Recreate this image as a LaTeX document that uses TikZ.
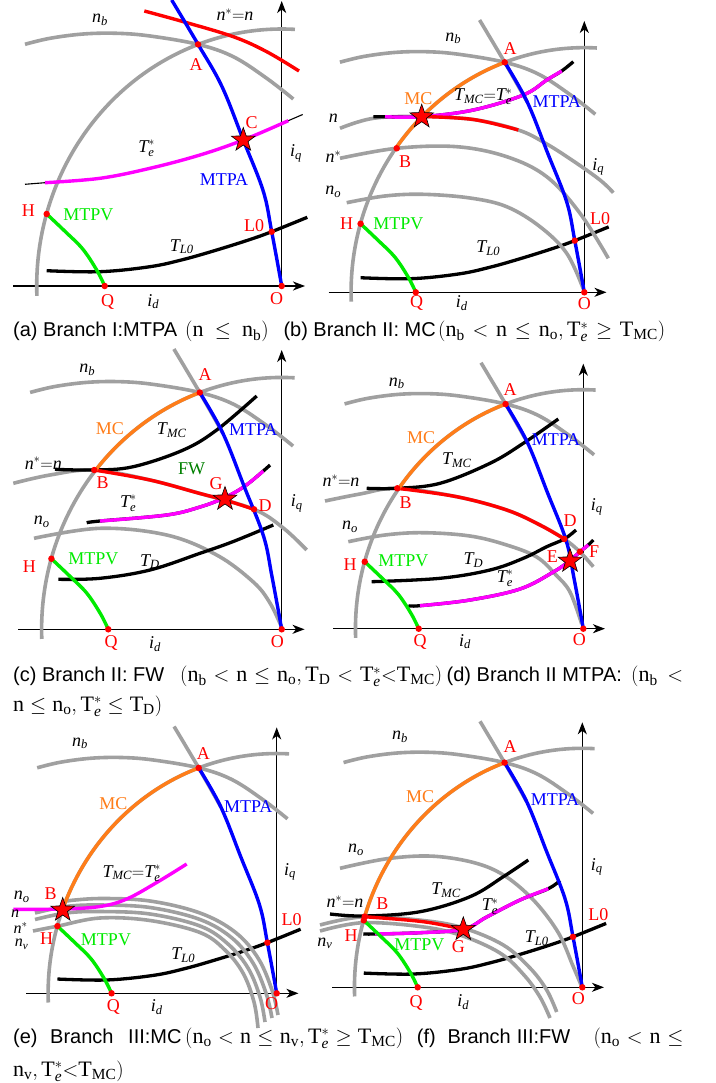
\documentclass[tikz,border=0pt]{standalone}
\usepackage{fontspec}
\setmainfont{Liberation Serif}
\setsansfont{Liberation Sans}
\usetikzlibrary{shapes.geometric,arrows.meta}
\definecolor{cgrey}{RGB}{160,160,160}
\definecolor{corange}{RGB}{255,125,25}
\definecolor{cgreen}{RGB}{0,235,0}
\definecolor{cdgreen}{RGB}{0,128,0}
\definecolor{cmag}{RGB}{255,0,255}
\tikzset{
 gr/.style={cgrey,line width=3.6pt},
 cur/.style={line width=3.4pt},
 blk/.style={black,line width=3.3pt},
 thn/.style={black,line width=1.1pt},
 ax/.style={line width=1.3pt,-{Stealth[length=12pt,width=9pt,inset=3.5pt]}},
 rdot/.style={circle,fill=red,inner sep=0pt,minimum size=6.5pt},
 starn/.style={star,star points=5,star point ratio=2.5,fill=red,draw=black,line width=0.6pt,minimum size=25pt,inner sep=0pt},
 lb/.style={font=\fontsize{18}{18}\selectfont,inner sep=0pt},
 lbs/.style={font=\fontsize{16}{16}\selectfont,inner sep=0pt},
 capt/.style={font=\fontsize{20}{20}\selectfont,inner sep=0pt,anchor=base west},
 pa/.style={shift={(281.7,-286)}},
 pb/.style={shift={(584.3,-292.3)},scale=0.952},
 pc/.style={shift={(281.7,-629.3)},scale=0.98},
 pd/.style={shift={(583.3,-628.7)},scale=0.93},
 pe/.style={shift={(276.7,-993.3)},scale=0.933},
 pf/.style={shift={(582.3,-987.3)},scale=0.93},
}
\newcommand\zzAxes{\draw[ax] (-268.7,0) -- (23.3,0); \draw[ax] (0,0) -- (0,285);}
\newcommand\zzCirc{\draw[gr] (182.2:245 and 257) arc[start angle=182.2,end angle=86.9,x radius=245,y radius=257];}
\newcommand\zzNb{\draw[gr] plot[smooth,tension=0.6] coordinates {(-256.7,241.7) (-231.7,247.7) (-198.4,252) (-165,252.7) (-131.7,250) (-83.6,241.6) (-48.4,229.3) (-15,207.7) (11.6,187)};}
\newcommand\zzTop{\draw[gr] plot[smooth] coordinates {(-110,286) (-83.6,241.6) (-60,200)};}
\newcommand\zzMtpa{\draw[cur,blue] plot[smooth,tension=0.6] coordinates {(-83.6,241.6) (-60,200) (-38.4,146) (-18.5,95) (-10,54.3) (0,0)};}
\newcommand\zzMtpv{\draw[cur,cgreen] plot[smooth,tension=0.6] coordinates {(-235,72) (-216,54) (-199,37) (-185,16) (-177,0)};}
\newcommand\zzTL{\draw[blk] plot[smooth,tension=0.6] coordinates {(-235,15.3) (-181.7,14.3) (-131.7,19.3) (-98.4,26.5) (-65,36) (-31.7,46.5) (-10,54.3) (25.6,68.7)};}
\newcommand\zzMC[1]{\draw[cur,corange] (#1:245 and 257) arc[start angle=#1,end angle=109.95,x radius=245,y radius=257];}
\newcommand\zzDots{\node[rdot] at (-83.6,241.6) {}; \node[rdot] at (-235,72) {}; \node[rdot] at (-177,0) {}; \node[rdot] at (0,0) {};}
\newcommand\zzLdot{\node[rdot] at (-10,54.3) {};}
\newcommand\zzMath[2]{\hbox to #1pt{\fontsize{22}{22}\selectfont$#2$}}
\newcommand\zzTe{\mathrm{T}_{\mathit{e}}^{*}}
\begin{document}
\begin{tikzpicture}[x=1pt,y=1pt]
\useasboundingbox (0,0) rectangle (715,-1083);
\fill[white] (0,0) rectangle (715,-1083);
% ================= (a)
\begin{scope}[pa]
 \zzAxes \zzTL \zzCirc \zzNb
\end{scope}
\draw[cur,red] plot[smooth,tension=0.6] coordinates {(144.3,-11) (183.3,-21.7) (233.3,-36.7) (266.7,-51.7) (299,-71)};
\draw[thn] plot[smooth,tension=0.6] coordinates {(25,-184.3) (45,-182.7) (100,-178.3) (150,-168.3) (200,-155) (243.3,-140) (288.3,-120.7) (302.7,-114.5)};
\draw[cur,cmag] plot[smooth,tension=0.6] coordinates {(45,-182.7) (100,-178.3) (150,-168.3) (200,-155) (243.3,-140) (288.3,-120.7)};
\begin{scope}[pa]
 \draw[cur,blue] plot[smooth,tension=0.6] coordinates {(-110,286) (-83.6,241.6) (-60,200) (-38.4,146) (-18.5,95) (-10,54.3) (0,0)};
 \zzMtpv \zzDots \zzLdot
\end{scope}
\node[starn] at (243.3,-140) {};
\node[lb] at (100,-20) {$\mathit{n_b}$};
\node[lb] at (235,-15) {$\mathit{n^{*}}{=}\mathit{n}$};
\node[lb,red] at (196,-65) {A};
\node[lb,red] at (251.7,-122.7) {C};
\node[lb] at (146.7,-148.3) {$\mathit{T_e^{*}}$};
\node[lb,blue] at (224,-180) {MTPA};
\node[lb] at (296,-153.3) {$\mathit{i_q}$};
\node[lb,red] at (28.3,-210.7) {H};
\node[lb,cgreen] at (88.3,-215) {MTPV};
\node[lb] at (181.7,-246.7) {$\mathit{T_{L0}}$};
\node[lb,red] at (254,-226) {L0};
\node[lb,red] at (107.7,-301.7) {Q};
\node[lb] at (153.3,-301.7) {$\mathit{i_d}$};
\node[lb,red] at (276.7,-298.3) {O};
% ================= (b)
\begin{scope}[pb]
 \zzAxes \zzTL \zzCirc \zzNb \zzTop
\end{scope}
\draw[gr] plot[smooth,tension=0.6] coordinates {(340,-128.3) (373.3,-118.3) (421.7,-116.5) (473.3,-119.5) (518.3,-130) (545,-143) (573.3,-161) (600,-180) (613.3,-192.7)};
\draw[gr] plot[smooth,tension=0.6] coordinates {(340,-158.3) (396.7,-148.3) (456.7,-146.7) (506.7,-156.7) (546.7,-176.7) (580,-213.3) (608.3,-258.3)};
\draw[gr] plot[smooth,tension=0.6] coordinates {(346.7,-202.7) (385,-196) (423,-194.3) (470,-198) (506.7,-206.7) (540,-226.7) (566.7,-253.3) (583.3,-289)};
\draw[blk] plot[smooth,tension=0.6] coordinates {(373.3,-116.7) (385,-116.7) (421.7,-116.7) (473.3,-110) (523.3,-95) (546.7,-80) (561.7,-71) (573.3,-61.7)};
\draw[cur,cmag] plot[smooth,tension=0.6] coordinates {(385,-116.7) (421.7,-116.7) (473.3,-110) (523.3,-95) (546.7,-80) (561.7,-71)};
\draw[cur,red] plot[smooth,tension=0.6] coordinates {(421.7,-116.5) (473.3,-119.5) (518.3,-130)};
\begin{scope}[pb]
 \zzMC{143.8} \zzMtpa \zzMtpv \zzDots \zzLdot
\end{scope}
\node[rdot] at (396.7,-148.3) {};
\node[starn] at (421.7,-116.7) {};
\node[lb] at (453.3,-38.3) {$\mathit{n_b}$};
\node[lb,red] at (510,-48.3) {A};
\node[lb,corange] at (418.3,-98.3) {MC};
\node[lb] at (483.3,-96.7) {$\mathit{T_{MC}}{=}\mathit{T_e^{*}}$};
\node[lb,blue] at (556.7,-101.7) {MTPA};
\node[lb] at (333.3,-118.3) {$\mathit{n}$};
\node[lb] at (333.3,-156.7) {$\mathit{n^{*}}$};
\node[lb] at (333.3,-191.7) {$\mathit{n_o}$};
\node[lb,red] at (405,-161.7) {B};
\node[lb,red] at (346.7,-223.3) {H};
\node[lb,cgreen] at (398.3,-223.3) {MTPV};
\node[lb] at (598.3,-166.7) {$\mathit{i_q}$};
\node[lb,red] at (600,-218.3) {L0};
\node[lb] at (488.3,-248.3) {$\mathit{T_{L0}}$};
\node[lb,red] at (416.7,-303.3) {Q};
\node[lb] at (461.7,-303.3) {$\mathit{i_d}$};
\node[lb,red] at (584.3,-303.3) {O};
% ================= (c)
\begin{scope}[pc]
 \zzAxes \zzCirc \zzNb \zzTop
\end{scope}
\draw[gr] plot[smooth,tension=0.6] coordinates {(13.3,-483.3) (50,-475) (94.3,-470) (150,-480) (200,-493.5) (254,-509.3) (283.3,-528) (306.7,-550)};
\draw[gr] plot[smooth,tension=0.6] coordinates {(34,-538.3) (100,-528.3) (166.7,-535) (216.7,-555) (253.3,-582) (270,-603) (281.7,-627.5)};
\draw[blk] plot[smooth,tension=0.6] coordinates {(55,-469.3) (94.3,-470) (133.3,-466.7) (183.3,-450) (216.7,-430) (256.7,-396)};
\draw[blk] plot[smooth,tension=0.6] coordinates {(58.3,-579.3) (100,-578.3) (150,-570) (200,-553.3) (233.3,-541.5) (273.3,-525)};
\draw[blk] plot[smooth,tension=0.6] coordinates {(86.7,-522.7) (100,-521) (166.7,-515) (200,-507) (225,-497.5) (245,-486) (263.3,-471) (270,-465)};
\draw[cur,cmag] plot[smooth,tension=0.6] coordinates {(100,-521) (166.7,-515) (200,-507) (225,-497.5) (245,-486) (263.3,-471)};
\draw[cur,red] plot[smooth,tension=0.6] coordinates {(94.3,-470) (150,-480) (200,-493.5) (225,-500) (254,-509.3)};
\begin{scope}[pc]
 \zzMC{141} \zzMtpa \zzMtpv \zzDots
\end{scope}
\node[rdot] at (94.3,-470) {};
\node[rdot] at (254,-509.3) {};
\node[starn] at (225,-499) {};
\node[lb] at (87.3,-370) {$\mathit{n_b}$};
\node[lb,red] at (205,-375) {A};
\node[lb,corange] at (110,-428.3) {MC};
\node[lb] at (171.7,-430) {$\mathit{T_{MC}}$};
\node[lb,blue] at (253.3,-430) {MTPA};
\node[lb] at (43.3,-463.3) {$\mathit{n^{*}}{=}\mathit{n}$};
\node[lb,red] at (102.7,-482.7) {B};
\node[lb,cdgreen] at (191.7,-468.3) {FW};
\node[lb,red] at (216,-484) {G};
\node[lb,red] at (265,-506) {D};
\node[lb] at (128.3,-503.3) {$\mathit{T_e^{*}}$};
\node[lb] at (296.7,-503.3) {$\mathit{i_q}$};
\node[lb] at (41.7,-521.7) {$\mathit{n_o}$};
\node[lb,red] at (29.3,-566.7) {H};
\node[lb,cgreen] at (93.3,-558.3) {MTPV};
\node[lb] at (150,-561.7) {$\mathit{T_D}$};
\node[lb,red] at (111,-643.3) {Q};
\node[lb] at (155,-644) {$\mathit{i_d}$};
\node[lb,red] at (277.3,-641.7) {O};
% ================= (d)
\begin{scope}[pd]
 \zzAxes \zzCirc \zzNb \zzTop
\end{scope}
\draw[gr] plot[smooth,tension=0.6] coordinates {(325,-501) (360,-494) (397.3,-488.3) (456.7,-496.7) (506.7,-510) (540,-525) (564.3,-539) (580,-552) (593.3,-566.7)};
\draw[gr] plot[smooth,tension=0.6] coordinates {(348.3,-541.7) (385,-535) (423.3,-532.7) (470,-536) (506.7,-545) (536.7,-557) (556,-575) (570,-592) (581.7,-624)};
\draw[blk] plot[smooth,tension=0.6] coordinates {(366.7,-488.3) (397.3,-488.3) (440,-483.3) (490,-463.3) (523.3,-443.3) (558.3,-419)};
\draw[blk] plot[smooth,tension=0.6] coordinates {(371.7,-581.7) (440,-578.3) (490,-570) (523.3,-558.3) (546.7,-546.7) (564.3,-539) (576,-530)};
\draw[blk] plot[smooth,tension=0.6] coordinates {(408.3,-605.7) (420,-605.7) (470,-600) (520,-589) (553.3,-572) (570,-560.5) (580,-551.7) (588.3,-545) (593.3,-540)};
\draw[cur,cmag] plot[smooth,tension=0.6] coordinates {(420,-605.7) (470,-600) (520,-589) (553.3,-572) (570,-560.5) (580,-551.7) (588.3,-545)};
\draw[cur,red] plot[smooth,tension=0.6] coordinates {(397.3,-488.3) (456.7,-496.7) (506.7,-510) (540,-525) (564.3,-539)};
\begin{scope}[pd]
 \zzMC{144.3} \zzMtpa \zzMtpv \zzDots
\end{scope}
\node[rdot] at (397.3,-488.3) {};
\node[rdot] at (564.3,-539) {};
\node[rdot] at (580,-551.7) {};
\node[starn] at (570,-561) {};
\node[lb] at (396.7,-383.3) {$\mathit{n_b}$};
\node[lb,red] at (510,-389.3) {A};
\node[lb,corange] at (421,-437.7) {MC};
\node[lb] at (456.7,-460) {$\mathit{T_{MC}}$};
\node[lb,blue] at (556,-439.3) {MTPA};
\node[lb] at (341,-481) {$\mathit{n^{*}}{=}\mathit{n}$};
\node[lb,red] at (405.7,-502.3) {B};
\node[lb] at (350,-526.7) {$\mathit{n_o}$};
\node[lb] at (596.7,-506.7) {$\mathit{i_q}$};
\node[lb,red] at (570,-521) {D};
\node[lb,red] at (552.3,-556.7) {E};
\node[lb,red] at (594,-551.7) {F};
\node[lb,red] at (350,-564.3) {H};
\node[lb,cgreen] at (403.3,-561) {MTPV};
\node[lb] at (473.3,-560) {$\mathit{T_D}$};
\node[lb] at (505,-578.3) {$\mathit{T_e^{*}}$};
\node[lb,red] at (420,-641.7) {Q};
\node[lb] at (465,-641.7) {$\mathit{i_d}$};
\node[lb,red] at (579.3,-639.3) {O};
% ================= (e)
\begin{scope}[pe]
 \zzAxes \zzTL \zzCirc \zzNb \zzTop
\end{scope}
\draw[gr] plot[smooth,tension=0.6] coordinates {(66,-901) (100,-898.5) (150,-901) (200,-913) (235,-932) (258,-958) (272,-990) (278,-1015)};
\draw[gr] plot[smooth,tension=0.6] coordinates {(35,-913) (66,-906.5) (100,-905) (150,-907.5) (200,-919.5) (232,-938) (253,-963) (266,-993) (272,-1018)};
\draw[gr] plot[smooth,tension=0.6] coordinates {(35,-919.5) (66,-913) (100,-911.5) (150,-914) (200,-926) (228,-944) (248,-968) (260,-997) (265,-1022)};
\draw[gr] plot[smooth,tension=0.6] coordinates {(33,-931) (58.3,-926) (100,-918) (150,-920.5) (200,-932.5) (225,-950) (243,-973) (254,-1002) (258,-1028)};
\draw[cur,cmag] plot[smooth,tension=0.6] coordinates {(13.3,-909.3) (62.7,-909) (100,-906.5) (126.7,-899) (156.7,-882.5) (186.7,-864)};
\begin{scope}[pe]
 \zzMC{159.6} \zzMtpa \zzMtpv \zzDots \zzLdot
\end{scope}
\node[starn] at (62.7,-910) {};
\node[lb] at (80,-743.3) {$\mathit{n_b}$};
\node[lb,red] at (203.3,-753.3) {A};
\node[lb,corange] at (113.3,-803.3) {MC};
\node[lb,blue] at (248.3,-806.7) {MTPA};
\node[lb] at (131.7,-873.3) {$\mathit{T_{MC}}{=}\mathit{T_e^{*}}$};
\node[lb] at (290,-871.7) {$\mathit{i_q}$};
\node[lb] at (21.7,-896.7) {$\mathit{n_o}$};
\node[lb,red] at (50.7,-893.3) {B};
\node[lbs] at (15,-914) {$\mathit{n}$};
\node[lbs] at (20.7,-928) {$\mathit{n^{*}}$};
\node[lb,red] at (46.7,-938.3) {H};
\node[lbs] at (21.7,-944.5) {$\mathit{n_v}$};
\node[lb,cgreen] at (106,-940) {MTPV};
\node[lb,red] at (291.7,-920) {L0};
\node[lb] at (183.3,-955) {$\mathit{T_{L0}}$};
\node[lb,red] at (113.3,-1006.7) {Q};
\node[lb] at (156.7,-1006.7) {$\mathit{i_d}$};
\node[lb,red] at (271.7,-1004) {O};
% ================= (f)
\begin{scope}[pf]
 \zzAxes \zzTL \zzCirc \zzNb \zzTop
\end{scope}
\draw[gr] plot[smooth,tension=0.6] coordinates {(340,-868.3) (390,-858.3) (440,-856.7) (490,-868) (526.7,-893.3) (556.7,-930) (573.3,-966.7) (581.7,-986.7)};
\draw[gr] plot[smooth,tension=0.6] coordinates {(320,-925) (364.3,-916.7) (423.3,-920.5) (463.3,-928) (503.3,-945) (530,-968) (546.7,-990) (556.7,-1012)};
\draw[gr] plot[smooth,tension=0.6] coordinates {(320,-931) (362.7,-922.7) (420,-926.5) (460,-935) (500,-953) (524,-975) (540,-997) (550,-1018)};
\draw[blk] plot[smooth,tension=0.6] coordinates {(330,-914) (364.3,-916) (420,-911.7) (470,-896.7) (503.3,-876.7) (528.3,-860)};
\draw[blk] plot[smooth,tension=0.6] coordinates {(363.3,-934) (375,-934) (420,-932.7) (463.3,-929.3) (486.7,-917) (520,-900) (548.3,-888.7) (560,-880.5)};
\draw[cur,cmag] plot[smooth,tension=0.6] coordinates {(375,-934) (420,-932.7) (463.3,-929.3) (486.7,-917) (520,-900) (548.3,-888.7)};
\draw[cur,red] plot[smooth,tension=0.6] coordinates {(364.3,-916.7) (423.3,-921.7) (463.3,-929.3)};
\begin{scope}[pf]
 \zzMC{162.8} \zzMtpa \zzMtpv \zzDots \zzLdot
\end{scope}
\node[rdot] at (364.7,-916.6) {};
\node[starn] at (463.3,-929.3) {};
\node[lb] at (400,-736.7) {$\mathit{n_b}$};
\node[lb,red] at (510,-746.7) {A};
\node[lb,corange] at (420,-796.7) {MC};
\node[lb,blue] at (555,-800) {MTPA};
\node[lb] at (356,-850) {$\mathit{n_o}$};
\node[lb] at (596.7,-866.7) {$\mathit{i_q}$};
\node[lb] at (446,-890) {$\mathit{T_{MC}}$};
\node[lb] at (490,-906.7) {$\mathit{T_e^{*}}$};
\node[lb] at (345,-901.7) {$\mathit{n^{*}}{=}\mathit{n}$};
\node[lb,red] at (382.3,-903.3) {B};
\node[lb,red] at (598.3,-915) {L0};
\node[lb,red] at (351,-935.7) {H};
\node[lb,cgreen] at (419.3,-945) {MTPV};
\node[lb,red] at (458.3,-946.7) {G};
\node[lb] at (536.7,-938.3) {$\mathit{T_{L0}}$};
\node[lb] at (325,-943.3) {$\mathit{n_v}$};
\node[lb,red] at (416,-1003.3) {Q};
\node[lb] at (463.3,-1001.7) {$\mathit{i_d}$};
\node[lb,red] at (578.3,-998.3) {O};
% ================= captions
\node[capt] at (13,-336.7) {\sffamily (a) Branch I:MTPA};
\node[capt] at (185,-336.7) {\zzMath{83.5}{(\mathrm{n}\le\mathrm{n_b})}};
\node[capt] at (283.3,-336.7) {\sffamily (b) Branch II: MC};
\node[capt] at (438,-336.7) {\zzMath{227}{(\mathrm{n_b}<\mathrm{n}\le\mathrm{n_o},\zzTe\ge\mathrm{T_{MC}})}};
\node[capt] at (13,-681.7) {\sffamily (c) Branch II: FW};
\node[capt] at (180,-681.7) {\zzMath{262}{(\mathrm{n_b}<\mathrm{n}\le\mathrm{n_o},\mathrm{T_D}<\zzTe{<}\mathrm{T_{MC}})}};
\node[capt] at (446.5,-681.7) {\sffamily (d) Branch II MTPA:};
\node[capt] at (631,-681.7) {\zzMath{52}{(\mathrm{n_b}<}};
\node[capt] at (13,-711) {\zzMath{149}{\mathrm{n}\le\mathrm{n_o},\zzTe\le\mathrm{T_D})}};
\node[capt] at (13,-1043.3) {\sffamily (e)};
\node[capt] at (50,-1043.3) {\sffamily Branch};
\node[capt] at (128,-1043.3) {\sffamily III:MC};
\node[capt] at (185,-1043.3) {\zzMath{218}{(\mathrm{n_o}<\mathrm{n}\le\mathrm{n_v},\zzTe\ge\mathrm{T_{MC}})}};
\node[capt] at (416.7,-1043.3) {\sffamily (f)};
\node[capt] at (447.3,-1043.3) {\sffamily Branch};
\node[capt] at (516.7,-1043.3) {\sffamily III:FW};
\node[capt] at (593.3,-1043.3) {\zzMath{90}{(\mathrm{n_o}<\mathrm{n}\le}};
\node[capt] at (13,-1076) {\zzMath{112}{\mathrm{n_v},\zzTe{<}\mathrm{T_{MC}})}};
\end{tikzpicture}
\end{document}
